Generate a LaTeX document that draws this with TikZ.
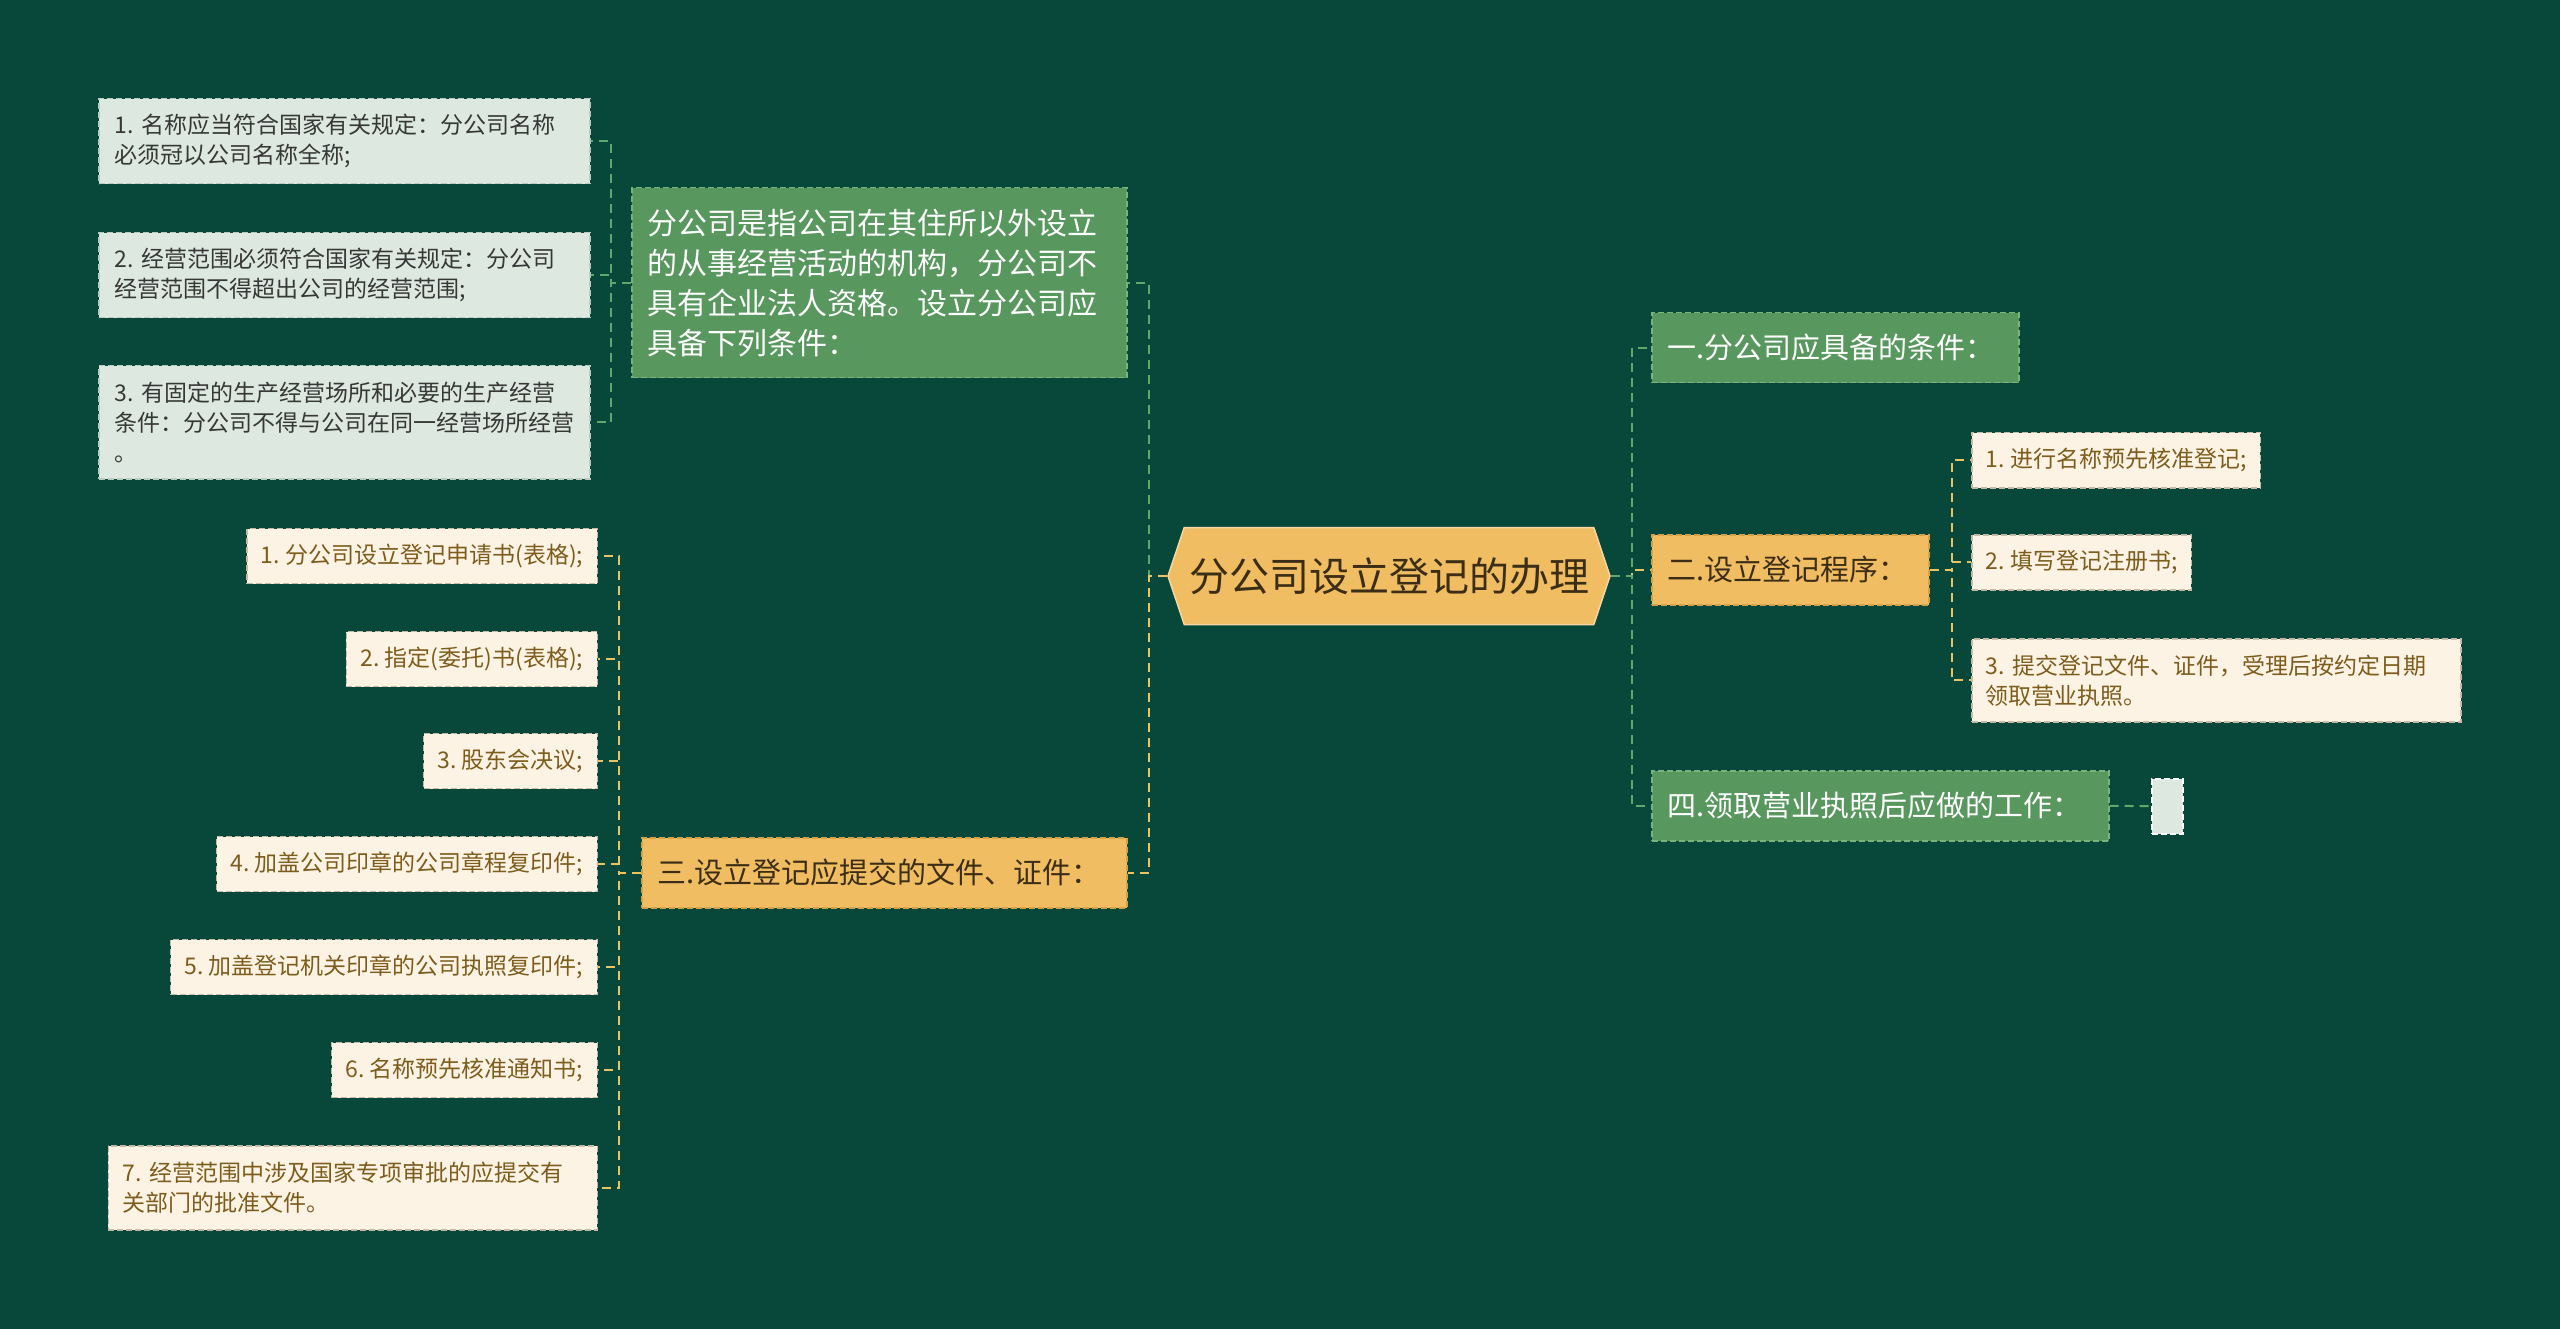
\documentclass[tikz,border=0pt]{standalone}
\usepackage{fontspec}
\setmainfont{Noto Sans CJK SC}
\usetikzlibrary{positioning,shapes.symbols}
\frenchspacing
\definecolor{bgcol}{RGB}{8,72,58}
\definecolor{greenfill}{RGB}{88,152,94}
\definecolor{greenedge}{RGB}{122,180,124}
\definecolor{orangefill}{RGB}{240,189,98}
\definecolor{orangeedge}{RGB}{212,160,72}
\definecolor{creamfill}{RGB}{253,243,228}
\definecolor{creamedge}{RGB}{196,186,166}
\definecolor{mintfill}{RGB}{221,233,224}
\definecolor{mintedge}{RGB}{186,202,192}
\definecolor{browntext}{RGB}{125,92,28}
\definecolor{darktext}{RGB}{60,46,22}
\definecolor{greytext}{RGB}{55,55,55}
\definecolor{linegreen}{RGB}{98,166,108}
\definecolor{lineyellow}{RGB}{232,196,100}
\tikzset{mmbox/.style={rectangle, dash pattern=on 6pt off 3pt, line width=1.5pt, align=left, inner xsep=16pt, inner ysep=0pt},
         rootnode/.style={signal, signal to=west and east, signal pointer angle=143, fill=orangefill, draw=orangefill!60!white, line width=1.5pt, text=darktext, minimum height=97pt, minimum width=442pt, font=\fontsize{40}{48}\selectfont},
         secg/.style={mmbox, fill=greenfill, draw=greenedge, text=white, minimum height=70pt, font=\fontsize{29}{38}\selectfont},
         seco/.style={mmbox, fill=orangefill, draw=orangeedge, text=darktext, minimum height=70pt, font=\fontsize{29}{38}\selectfont},
         leafmint/.style={mmbox, fill=mintfill, draw=mintedge, text=greytext, font=\fontsize{23}{30}\selectfont},
         leafcream/.style={mmbox, fill=creamfill, draw=creamedge, text=browntext, inner xsep=14pt, minimum height=55pt, font=\fontsize{23}{30}\selectfont},
         linkg/.style={draw=linegreen, line width=2pt, dash pattern=on 9pt off 6pt},
         linky/.style={draw=lineyellow, line width=2pt, dash pattern=on 9pt off 6pt}
}
\begin{document}
\begin{tikzpicture}[x=1pt,y=-1pt]
  \fill[bgcol] (0,0) rectangle (2560,1329);
  \useasboundingbox (0,0) rectangle (2560,1329);
  % centre
  \node[rootnode] (root) at (1389,576) {分公司设立登记的办理};
  % left side
  \node[secg, font=\fontsize{30}{40}\selectfont, text width=463pt, minimum height=190pt, anchor=north west] (desc) at (631,187)
    {分公司是指公司在其住所以外设立\\的从事经营活动的机构，分公司不\\具有企业法人资格。设立分公司应\\具备下列条件：};
  \node[leafmint, text width=459pt, minimum height=85pt, anchor=north west] (l1) at (98,98) {1. 名称应当符合国家有关规定：分公司名称\\必须冠以公司名称全称;};
  \node[leafmint, text width=459pt, minimum height=85pt, anchor=north west] (l2) at (98,232) {2. 经营范围必须符合国家有关规定：分公司\\经营范围不得超出公司的经营范围;};
  \node[leafmint, text width=459pt, minimum height=113pt, anchor=north west] (l3) at (98,365) {3. 有固定的生产经营场所和必要的生产经营\\条件：分公司不得与公司在同一经营场所经营\\。};
  \node[seco, text width=453pt, anchor=north west] (sec3) at (641,837) {三.设立登记应提交的文件、证件：};
  \node[leafcream, anchor=east] (d1) at (598,556) {1. 分公司设立登记申请书(表格);};
  \node[leafcream, anchor=east] (d2) at (598,659) {2. 指定(委托)书(表格);};
  \node[leafcream, anchor=east] (d3) at (598,761) {3. 股东会决议;};
  \node[leafcream, anchor=east] (d4) at (598,864) {4. 加盖公司印章的公司章程复印件;};
  \node[leafcream, anchor=east] (d5) at (598,967) {5. 加盖登记机关印章的公司执照复印件;};
  \node[leafcream, anchor=east] (d6) at (598,1070) {6. 名称预先核准通知书;};
  \node[leafcream, text width=461pt, minimum height=84pt, anchor=east] (d7) at (598,1188) {7. 经营范围中涉及国家专项审批的应提交有\\关部门的批准文件。};
  % right side
  \node[secg, text width=335pt, anchor=north west] (sec1) at (1651,312) {一.分公司应具备的条件：};
  \node[seco, text width=245pt, anchor=north west] (sec2) at (1651,534) {二.设立登记程序：};
  \node[secg, text width=425pt, anchor=north west] (sec4) at (1651,770) {四.领取营业执照后应做的工作：};
  \node[leafcream, anchor=north west] (r1) at (1971,432) {1. 进行名称预先核准登记;};
  \node[leafcream, anchor=north west] (r2) at (1971,534) {2. 填写登记注册书;};
  \node[leafcream, text width=461pt, minimum height=83pt, anchor=north west] (r3) at (1971,638) {3. 提交登记文件、证件，受理后按约定日期\\领取营业执照。};
  \node[mmbox, fill=mintfill, draw=white, minimum width=31pt, minimum height=55pt, inner sep=0pt, anchor=north west] (blank) at (2151,778) {};
  % links
  \draw[linkg] (root.west) -- ++(-18,0) |- (desc.east);
  \draw[linky] (root.west) -- ++(-18,0) |- (sec3.east);
  \draw[linkg] (root.east) -- ++(21,0) |- (sec1.west);
  \draw[linky] (root.east) -- ++(21,0) |- (sec2.west);
  \draw[linkg] (root.east) -- ++(21,0) |- (sec4.west);
  \foreach \i in {1,2,3}
    \draw[linkg] (desc.west) -- ++(-20,0) |- (l\i.east);
  \foreach \i in {1,...,7}
    \draw[linky] (sec3.west) -- ++(-22,0) |- (d\i.east);
  \foreach \i in {1,2,3}
    \draw[linky] (sec2.east) -- ++(22,0) |- (r\i.west);
  \draw[linkg] (sec4.east) -- (blank.west);
\end{tikzpicture}
\end{document}
